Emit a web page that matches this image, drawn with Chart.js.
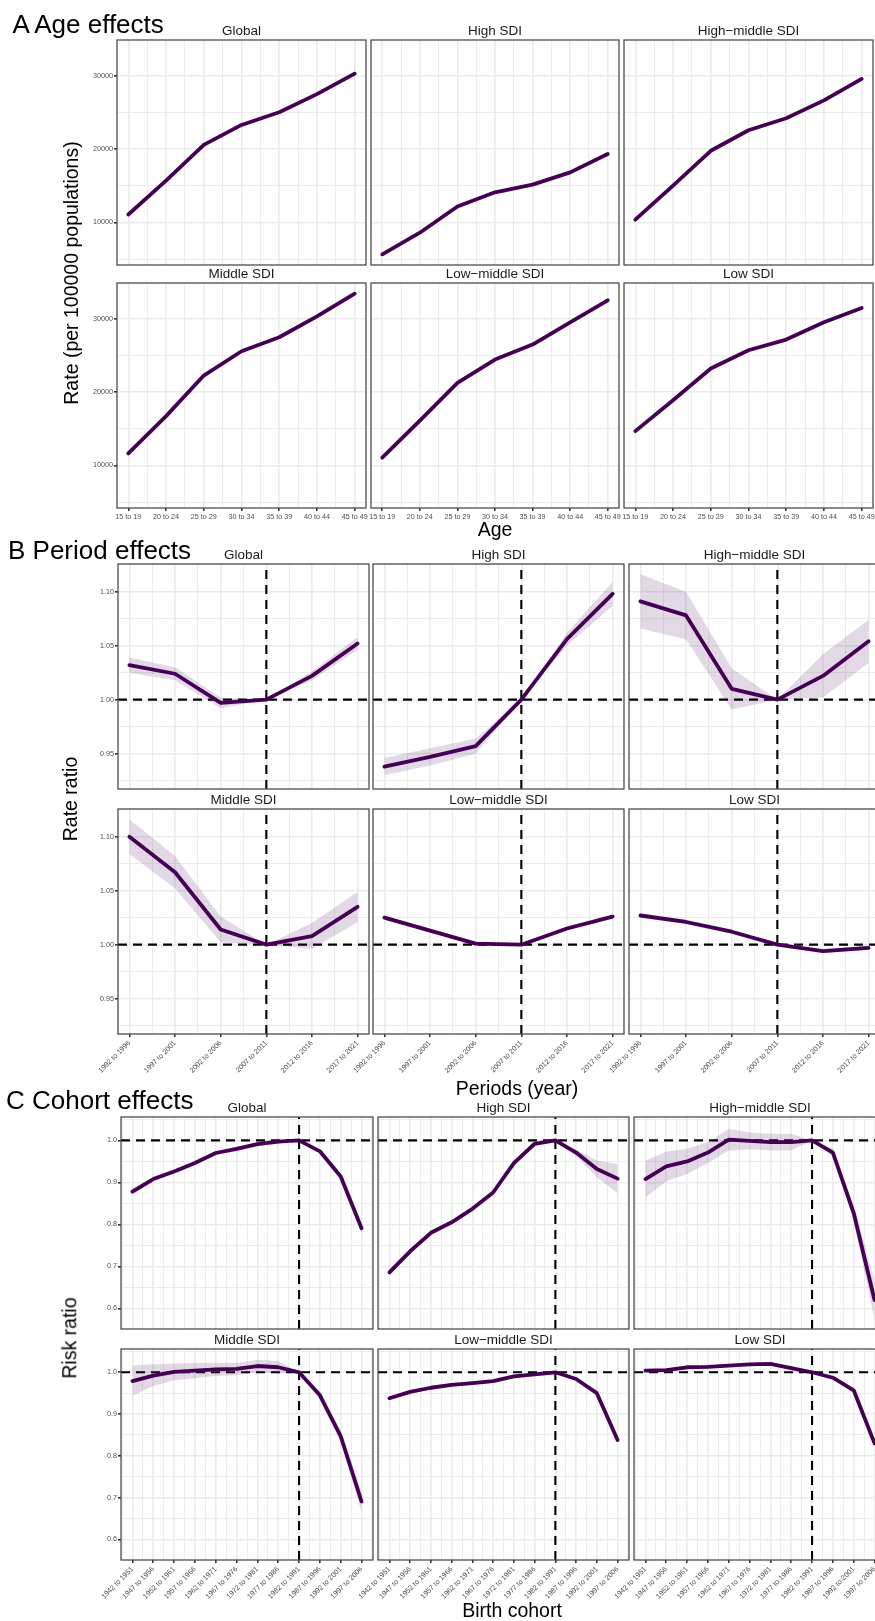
<!DOCTYPE html>
<html>
<head>
<meta charset="utf-8">
<script src="https://cdn.jsdelivr.net/npm/chart.js@4.4.1/dist/chart.umd.min.js"></script>
<style>
  body { margin: 0; background: #fff; }
  #page { position: relative; width: 875px; height: 1621px; overflow: hidden; background: #fff;
    font-family: 'Liberation Sans', Arial, Helvetica, sans-serif; }
  #page canvas { position: absolute; }
  .txt { position: absolute; white-space: nowrap; line-height: 1; color: #000; }
</style>
</head>
<body>
<div id="page"></div>
<script>
'use strict';

// categories
const regions = ['Global', 'High SDI', 'High−middle SDI', 'Middle SDI', 'Low−middle SDI', 'Low SDI'];
const ageGroups = ['15 to 19', '20 to 24', '25 to 29', '30 to 34', '35 to 39', '40 to 44', '45 to 49'];
const periods = ['1992 to 1996', '1997 to 2001', '2002 to 2006', '2007 to 2011', '2012 to 2016', '2017 to 2021'];
const cohorts = ['1942 to 1951', '1947 to 1956', '1952 to 1961', '1957 to 1966', '1962 to 1971', '1967 to 1976',
  '1972 to 1981', '1977 to 1986', '1982 to 1991', '1987 to 1996', '1992 to 2001', '1997 to 2006'];

// tick labels (major breaks)
const ageTicks = [10000, 20000, 30000];
const periodTicks = [0.95, 1.00, 1.05, 1.10];
const cohortTicks = [0.6, 0.7, 0.8, 0.9, 1.0];

// A - age effects, rate per 100000 populations
const ageGlobal = [11080, 15700, 20570, 23280, 25000, 27480, 30270];
const ageHigh = [5660, 8600, 12170, 14100, 15150, 16820, 19310];
const ageHighMiddle = [10370, 15010, 19760, 22560, 24190, 26630, 29550];
const ageMiddle = [11630, 16710, 22240, 25550, 27460, 30310, 33400];
const ageLowMiddle = [11050, 16100, 21250, 24420, 26460, 29500, 32490];
const ageLow = [14670, 18890, 23200, 25690, 27140, 29500, 31450];

// B - period effects, rate ratio with 95% band
const perGlobal = [1.032, 1.024, 0.997, 1.000, 1.022, 1.052];
const perGlobalLo = [1.025, 1.018, 0.992, 1.000, 1.018, 1.046];
const perGlobalHi = [1.039, 1.030, 1.002, 1.000, 1.026, 1.058];
const perHigh = [0.938, 0.947, 0.957, 1.000, 1.056, 1.098];
const perHighLo = [0.930, 0.939, 0.950, 1.000, 1.050, 1.087];
const perHighHi = [0.946, 0.955, 0.964, 1.000, 1.062, 1.109];
const perHighMiddle = [1.091, 1.078, 1.010, 1.000, 1.022, 1.054];
const perHighMiddleLo = [1.066, 1.056, 0.991, 1.000, 1.002, 1.034];
const perHighMiddleHi = [1.116, 1.100, 1.029, 1.000, 1.042, 1.074];
const perMiddle = [1.100, 1.067, 1.014, 1.000, 1.008, 1.035];
const perMiddleLo = [1.084, 1.052, 1.002, 1.000, 0.996, 1.021];
const perMiddleHi = [1.116, 1.082, 1.026, 1.000, 1.020, 1.049];
const perLowMiddle = [1.025, 1.013, 1.001, 1.000, 1.015, 1.026];
const perLowMiddleLo = [1.023, 1.011, 0.999, 1.000, 1.013, 1.024];
const perLowMiddleHi = [1.027, 1.015, 1.003, 1.000, 1.017, 1.028];
const perLow = [1.027, 1.021, 1.012, 1.000, 0.994, 0.997];
const perLowLo = [1.025, 1.019, 1.010, 1.000, 0.992, 0.995];
const perLowHi = [1.029, 1.023, 1.014, 1.000, 0.996, 0.999];

// C - cohort effects, risk ratio with 95% band
const cohGlobal = [0.878, 0.908, 0.926, 0.946, 0.970, 0.980, 0.991, 0.997, 1.000, 0.974, 0.914, 0.791];
const cohGlobalLo = [0.872, 0.903, 0.921, 0.941, 0.965, 0.975, 0.986, 0.992, 1.000, 0.969, 0.908, 0.782];
const cohGlobalHi = [0.884, 0.913, 0.931, 0.951, 0.975, 0.985, 0.996, 1.002, 1.000, 0.979, 0.920, 0.800];
const cohHigh = [0.686, 0.736, 0.780, 0.805, 0.837, 0.876, 0.946, 0.992, 1.000, 0.971, 0.932, 0.909];
const cohHighLo = [0.678, 0.730, 0.775, 0.800, 0.832, 0.871, 0.940, 0.987, 1.000, 0.963, 0.912, 0.874];
const cohHighHi = [0.694, 0.742, 0.785, 0.810, 0.842, 0.881, 0.952, 0.997, 1.000, 0.979, 0.952, 0.944];
const cohHighMiddle = [0.908, 0.938, 0.950, 0.971, 1.002, 0.999, 0.996, 0.996, 1.000, 0.971, 0.827, 0.620];
const cohHighMiddleLo = [0.864, 0.903, 0.920, 0.946, 0.976, 0.979, 0.976, 0.976, 1.000, 0.961, 0.807, 0.575];
const cohHighMiddleHi = [0.952, 0.973, 0.980, 0.996, 1.028, 1.019, 1.016, 1.016, 1.000, 0.981, 0.847, 0.665];
const cohMiddle = [0.979, 0.992, 1.001, 1.004, 1.007, 1.008, 1.015, 1.012, 1.000, 0.945, 0.847, 0.691];
const cohMiddleLo = [0.944, 0.967, 0.981, 0.986, 0.991, 0.993, 1.000, 0.997, 1.000, 0.935, 0.832, 0.666];
const cohMiddleHi = [1.016, 1.019, 1.021, 1.022, 1.023, 1.023, 1.030, 1.027, 1.000, 0.955, 0.862, 0.716];
const cohLowMiddle = [0.938, 0.953, 0.963, 0.970, 0.974, 0.979, 0.990, 0.995, 1.000, 0.984, 0.950, 0.838];
const cohLowMiddleLo = [0.934, 0.949, 0.959, 0.966, 0.970, 0.975, 0.986, 0.991, 1.000, 0.980, 0.946, 0.832];
const cohLowMiddleHi = [0.942, 0.957, 0.967, 0.974, 0.978, 0.983, 0.994, 0.999, 1.000, 0.988, 0.954, 0.844];
const cohLow = [1.004, 1.005, 1.012, 1.013, 1.016, 1.019, 1.020, 1.010, 1.000, 0.987, 0.957, 0.830];
const cohLowLo = [1.000, 1.001, 1.008, 1.009, 1.012, 1.015, 1.016, 1.006, 1.000, 0.983, 0.951, 0.820];
const cohLowHi = [1.008, 1.009, 1.016, 1.017, 1.020, 1.023, 1.024, 1.014, 1.000, 0.991, 0.963, 0.840];

const FONT = "'Liberation Sans', Arial, Helvetica, sans-serif";
const LINE = '#440154';
const RIBBON = 'rgba(68, 1, 84, 0.15)';
const PAD_L = 45, PAD_R = 15, PAD_T = 22, PAD_B = 10;

Chart.defaults.font.family = FONT;
Chart.defaults.animation = false;

const page = document.getElementById('page');

// the 3 sections, panel edges in pixels
const sections = [
  {
    cols: [[117, 366], [371, 619], [624, 873]], rows: [[40, 265], [283, 508]],
    xAxisH: 20, rotate: 0, cats: ageGroups, xMin: -0.3, xMax: 6.3,
    yMin: 4200, yMax: 34850, yStep: 5000, yTicks: ageTicks, yFmt: v => String(v),
    series: [ageGlobal, ageHigh, ageHighMiddle, ageMiddle, ageLowMiddle, ageLow],
    lo: null, hi: null, refX: null, refY: null
  },
  {
    cols: [[118, 369], [373, 624], [629, 880]], rows: [[564, 789], [809, 1034]],
    xAxisH: 50, rotate: 45, cats: periods, xMin: -0.25, xMax: 5.25,
    yMin: 0.9173, yMax: 1.1256, yStep: 0.025, yTicks: periodTicks, yFmt: v => v.toFixed(2),
    series: [perGlobal, perHigh, perHighMiddle, perMiddle, perLowMiddle, perLow],
    lo: [perGlobalLo, perHighLo, perHighMiddleLo, perMiddleLo, perLowMiddleLo, perLowLo],
    hi: [perGlobalHi, perHighHi, perHighMiddleHi, perMiddleHi, perLowMiddleHi, perLowHi],
    refX: 3, refY: 1
  },
  {
    cols: [[121, 373], [378, 629], [634, 886]], rows: [[1117, 1329], [1349, 1560]],
    xAxisH: 50, rotate: 45, cats: cohorts, xMin: -0.55, xMax: 11.55,
    yMin: 0.551, yMax: 1.0557, yStep: 0.05, yTicks: cohortTicks, yFmt: v => v.toFixed(1),
    series: [cohGlobal, cohHigh, cohHighMiddle, cohMiddle, cohLowMiddle, cohLow],
    lo: [cohGlobalLo, cohHighLo, cohHighMiddleLo, cohMiddleLo, cohLowMiddleLo, cohLowLo],
    hi: [cohGlobalHi, cohHighHi, cohHighMiddleHi, cohMiddleHi, cohLowMiddleHi, cohLowHi],
    refX: 8, refY: 1
  }
];

// panel border + facet strip label
const frame = {
  id: 'frame',
  afterDraw(chart, args, opts) {
    const a = chart.chartArea;
    const ctx = chart.ctx;
    ctx.save();
    ctx.strokeStyle = '#4d4d4d';
    ctx.lineWidth = 1.3;
    ctx.strokeRect(a.left, a.top, a.right - a.left, a.bottom - a.top);
    ctx.fillStyle = '#1a1a1a';
    ctx.font = '13.5px ' + FONT;
    ctx.textAlign = 'center';
    ctx.textBaseline = 'middle';
    ctx.fillText(opts.strip, (a.left + a.right) / 2, a.top - 8.7);
    ctx.restore();
  }
};

function pts(arr) {
  return arr.map((v, i) => ({x: i, y: v}));
}

// breaks every half step (ggplot major + minor grid)
function tickList(min, max, step) {
  const out = [];
  for (let k = Math.ceil(min / step - 1e-9); k * step <= max + 1e-9; k++) {
    out.push({value: +(k * step).toFixed(6)});
  }
  return out;
}

function drawPanel(sec, idx) {
  const row = Math.floor(idx / 3);
  const col = idx % 3;
  const [L, R] = sec.cols[col];
  const [T, B] = sec.rows[row];
  const showY = col === 0;
  const showX = row === 1;
  const xH = showX ? sec.xAxisH : 0;

  const cv = document.createElement('canvas');
  cv.width = R - L + PAD_L + PAD_R;
  cv.height = B - T + PAD_T + xH + PAD_B;
  cv.style.left = (L - PAD_L) + 'px';
  cv.style.top = (T - PAD_T) + 'px';
  page.appendChild(cv);

  const isMajorY = v => sec.yTicks.some(t => Math.abs(t - v) < 1e-9);
  const isMajorX = v => Math.abs(v - Math.round(v)) < 1e-9;

  const datasets = [{
    data: pts(sec.series[idx]), borderColor: LINE, borderWidth: 3.8,
    borderCapStyle: 'round', borderJoinStyle: 'round', order: 0
  }];
  if (sec.lo) {
    datasets.push({data: pts(sec.hi[idx]), borderWidth: 0, borderColor: 'rgba(0,0,0,0)', order: 1});
    datasets.push({data: pts(sec.lo[idx]), borderWidth: 0, borderColor: 'rgba(0,0,0,0)',
      fill: '-1', backgroundColor: RIBBON, order: 1});
  }
  const dash = {borderColor: '#000', borderWidth: 2.1, borderDash: [9, 6], order: 3};
  if (sec.refY !== null) {
    datasets.push(Object.assign({data: [{x: sec.xMin, y: sec.refY}, {x: sec.xMax, y: sec.refY}]}, dash));
  }
  if (sec.refX !== null) {
    datasets.push(Object.assign({data: [{x: sec.refX, y: sec.yMin}, {x: sec.refX, y: sec.yMax}]}, dash));
  }

  new Chart(cv, {
    type: 'line',
    data: {datasets: datasets},
    plugins: [frame],
    options: {
      responsive: false,
      devicePixelRatio: 1,
      layout: {padding: {top: PAD_T, right: PAD_R, left: 0, bottom: PAD_B}},
      elements: {point: {radius: 0}, line: {tension: 0}},
      plugins: {legend: {display: false}, tooltip: {enabled: false}, frame: {strip: regions[idx]}},
      scales: {
        x: {
          type: 'linear', min: sec.xMin, max: sec.xMax,
          border: {display: false},
          grid: {
            color: '#ebebeb',
            lineWidth: c => isMajorX(c.tick.value) ? 1.6 : 0.9,
            drawTicks: showX, tickLength: 3,
            tickColor: c => isMajorX(c.tick.value) ? '#333' : 'rgba(0,0,0,0)'
          },
          ticks: {
            display: showX, autoSkip: false,
            minRotation: sec.rotate, maxRotation: sec.rotate, padding: 2,
            color: '#4d4d4d', font: {size: 7.2},
            callback: v => isMajorX(v) ? sec.cats[Math.round(v)] : ''
          },
          afterBuildTicks: s => { s.ticks = tickList(sec.xMin, sec.xMax, 0.5); },
          afterFit: s => { s.height = xH; }
        },
        y: {
          type: 'linear', min: sec.yMin, max: sec.yMax,
          border: {display: false},
          grid: {
            color: '#ebebeb',
            lineWidth: c => isMajorY(c.tick.value) ? 1.6 : 0.9,
            drawTicks: showY, tickLength: 3,
            tickColor: c => isMajorY(c.tick.value) ? '#333' : 'rgba(0,0,0,0)'
          },
          ticks: {
            display: showY, autoSkip: false,
            padding: 1, color: '#4d4d4d', font: {size: 7.2},
            callback: v => isMajorY(v) ? sec.yFmt(v) : ''
          },
          afterBuildTicks: s => { s.ticks = tickList(sec.yMin, sec.yMax, sec.yStep); },
          afterFit: s => { s.width = PAD_L; }
        }
      }
    }
  });
}

sections.forEach(sec => {
  for (let i = 0; i < 6; i++) drawPanel(sec, i);
});

// texts: baseline-positioned labels
function addText(str, x, baseline, size, center) {
  const el = document.createElement('div');
  el.className = 'txt';
  el.textContent = str;
  el.style.fontSize = size + 'px';
  el.style.top = (baseline - 0.8465 * size) + 'px';
  el.style.left = x + 'px';
  if (center) el.style.transform = 'translateX(-50%)';
  page.appendChild(el);
}

function addVText(str, cx, cy, size) {
  const el = document.createElement('div');
  el.className = 'txt';
  el.textContent = str;
  el.style.fontSize = size + 'px';
  el.style.left = cx + 'px';
  el.style.top = cy + 'px';
  el.style.transform = 'translate(-50%, -50%) rotate(-90deg)';
  page.appendChild(el);
}

addText('A Age effects', 12.5, 33.3, 26);
addText('B Period effects', 8, 559.3, 26);
addText('C Cohort effects', 6, 1109.3, 26);

addText('Age', 495, 537, 19.5, true);
addText('Periods (year)', 517, 1095.3, 19.5, true);
addText('Birth cohort', 512, 1617.3, 19.5, true);

addVText('Rate (per 100000 populations)', 71.5, 273, 19.5);
addVText('Rate ratio', 71, 799, 19.5);
addVText('Risk ratio', 70, 1338, 19.5);
</script>
</body>
</html>
